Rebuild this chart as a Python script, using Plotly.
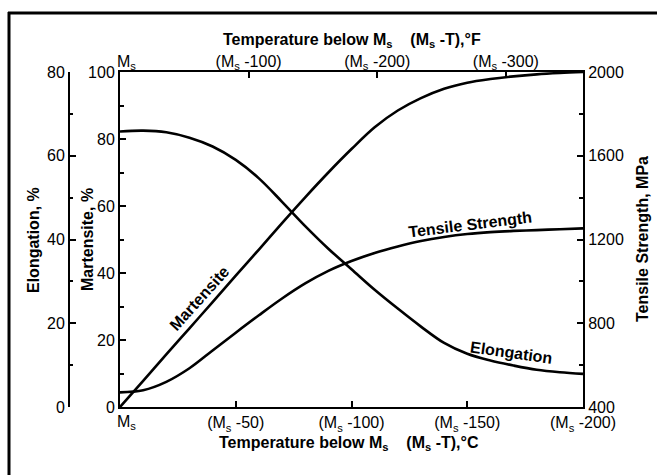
import plotly.graph_objects as go

W, H = 657, 475

# ---------------- data ----------------
temp_c = [0, 10, 20, 30, 40, 50, 60, 70, 80, 90, 100,
          110, 120, 130, 140, 150, 160, 170, 180, 190, 200]
martensite = [0, 7.8, 15.7, 23.5, 31.3, 39.2, 47.0, 54.9, 62.6, 70.0, 77.0,
              83.5, 88.5, 92.2, 95.0, 96.8, 97.9, 98.7, 99.3, 99.7, 100]
elongation = [65.8, 66.0, 65.6, 64.3, 62.2, 59.0, 54.6, 49.0, 43.2, 37.8, 32.9,
              28.0, 23.5, 19.2, 15.3, 12.7, 11.1, 9.9, 8.9, 8.3, 7.9]
tensile = [470, 480, 520, 585, 670, 755, 838, 918, 990, 1050, 1097,
           1136, 1167, 1193, 1212, 1226, 1235, 1241, 1245, 1249, 1253]

c_ticks = [0, 50, 100, 150, 200]
c_labels = ["M<sub>s</sub>", "(M<sub>s</sub> -50)", "(M<sub>s</sub> -100)",
            "(M<sub>s</sub> -150)", "(M<sub>s</sub> -200)"]
f_ticks = [0, 100, 200, 300]
f_labels = ["M<sub>s</sub>", "(M<sub>s</sub> -100)", "(M<sub>s</sub> -200)",
            "(M<sub>s</sub> -300)"]
f_range = [0, 360]
martensite_ticks = [0, 20, 40, 60, 80, 100]
elong_ticks = [0, 20, 40, 60, 80]
tensile_ticks = [400, 800, 1200, 1600, 2000]

FONT = "Liberation Sans, Arial, Helvetica, sans-serif"


def px(x):
    return x / W


def py(y):
    return 1 - y / H


line_style = dict(color="black", width=2.6, shape="spline", smoothing=1.0)

fig = go.Figure()
fig.add_trace(go.Scatter(x=temp_c, y=martensite, mode="lines", line=line_style,
                         xaxis="x", yaxis="y", showlegend=False, hoverinfo="skip"))
fig.add_trace(go.Scatter(x=temp_c, y=elongation, mode="lines", line=line_style,
                         xaxis="x", yaxis="y2", showlegend=False, hoverinfo="skip"))
fig.add_trace(go.Scatter(x=temp_c, y=tensile, mode="lines", line=line_style,
                         xaxis="x", yaxis="y3", showlegend=False, hoverinfo="skip"))
# invisible helper trace so the °F axis is drawn
fig.add_trace(go.Scatter(x=f_range, y=[0, 0], mode="lines", opacity=0,
                         xaxis="x2", yaxis="y", showlegend=False, hoverinfo="skip"))

tick_font = dict(family=FONT, size=16, color="black")
axis_common = dict(showline=True, linewidth=2, linecolor="black", showgrid=False,
                   zeroline=False, ticks="inside", ticklen=6, tickwidth=2,
                   tickcolor="black", automargin=False, tickfont=tick_font)

fig.update_layout(
    width=W, height=H, autosize=False,
    margin=dict(l=0, r=0, t=0, b=0, pad=0, autoexpand=False),
    paper_bgcolor="white", plot_bgcolor="white",
    font=dict(family=FONT, color="black"),
    xaxis=dict(domain=[px(120), px(583)], range=[0, 200], anchor="y",
               tickmode="array", tickvals=c_ticks,
               ticktext=[""] + c_labels[1:], **axis_common),
    xaxis2=dict(overlaying="x", side="top", range=f_range, anchor="y",
                tickmode="array", tickvals=f_ticks,
                ticktext=[""] + f_labels[1:],
                ticklabelstandoff=-3, **axis_common),
    yaxis=dict(domain=[py(407), py(72)], range=[0, 100], anchor="x",
               tickmode="array", tickvals=martensite_ticks,
               minor=dict(ticks="inside", ticklen=4, tickwidth=1.5, tickcolor="black",
                          tickmode="linear", tick0=0, dtick=10),
               **axis_common),
    yaxis2=dict(overlaying="y", anchor="free", position=px(69), side="left",
                range=[0, 80], tickmode="array", tickvals=elong_ticks,
                minor=dict(ticks="inside", ticklen=3, tickwidth=1.5, tickcolor="black",
                           tickmode="linear", tick0=0, dtick=10),
                **axis_common),
    yaxis3=dict(overlaying="y", anchor="x", side="right",
                range=[400, 2000], tickmode="array", tickvals=tensile_ticks,
                minor=dict(ticks="inside", ticklen=4, tickwidth=1.5, tickcolor="black",
                           tickmode="linear", tick0=400, dtick=200),
                **axis_common),
)

# "Ms" labels at the origin, set slightly right of the corner as in the reference
fig.add_annotation(xref="paper", yref="paper", showarrow=False, font=tick_font,
                   text=c_labels[0], x=px(126), y=py(422),
                   xanchor="center", yanchor="middle")
fig.add_annotation(xref="paper", yref="paper", showarrow=False, font=tick_font,
                   text=f_labels[0], x=px(126), y=py(62),
                   xanchor="center", yanchor="middle")

sp = "\u00a0" * 4
bold = dict(family=FONT, size=16, color="black")
annots = [
    dict(text=f"<b>Temperature below M<sub>s</sub>{sp}(M<sub>s</sub> -T),°F</b>",
         x=px(352), y=py(40), textangle=0),
    dict(text=f"<b>Temperature below M<sub>s</sub>{sp}(M<sub>s</sub> -T),°C</b>",
         x=px(349), y=py(443), textangle=0),
    dict(text="<b>Elongation, %</b>", x=px(33), y=py(240), textangle=-90),
    dict(text="<b>Martensite, %</b>", x=px(87), y=py(240), textangle=-90),
    dict(text="<b>Tensile Strength, MPa</b>", x=px(642), y=py(239), textangle=-90),
    dict(text="<b>Martensite</b>", x=px(199), y=py(298), textangle=-48),
    dict(text="<b>Tensile Strength</b>", x=px(470), y=py(224), textangle=-7),
    dict(text="<b>Elongation</b>", x=px(511), y=py(352), textangle=8),
]
for a in annots:
    fig.add_annotation(xref="paper", yref="paper", showarrow=False,
                       xanchor="center", yanchor="middle", font=bold, **a)

# outer frame (left and top edges visible in the reference), kept inside the paper
fig.add_shape(type="line", xref="paper", yref="paper", x0=px(9), x1=px(9),
              y0=0, y1=py(12), line=dict(color="black", width=3))
fig.add_shape(type="line", xref="paper", yref="paper", x0=px(8), x1=1,
              y0=py(13), y1=py(13), line=dict(color="black", width=3))

fig.write_html("out.html")
